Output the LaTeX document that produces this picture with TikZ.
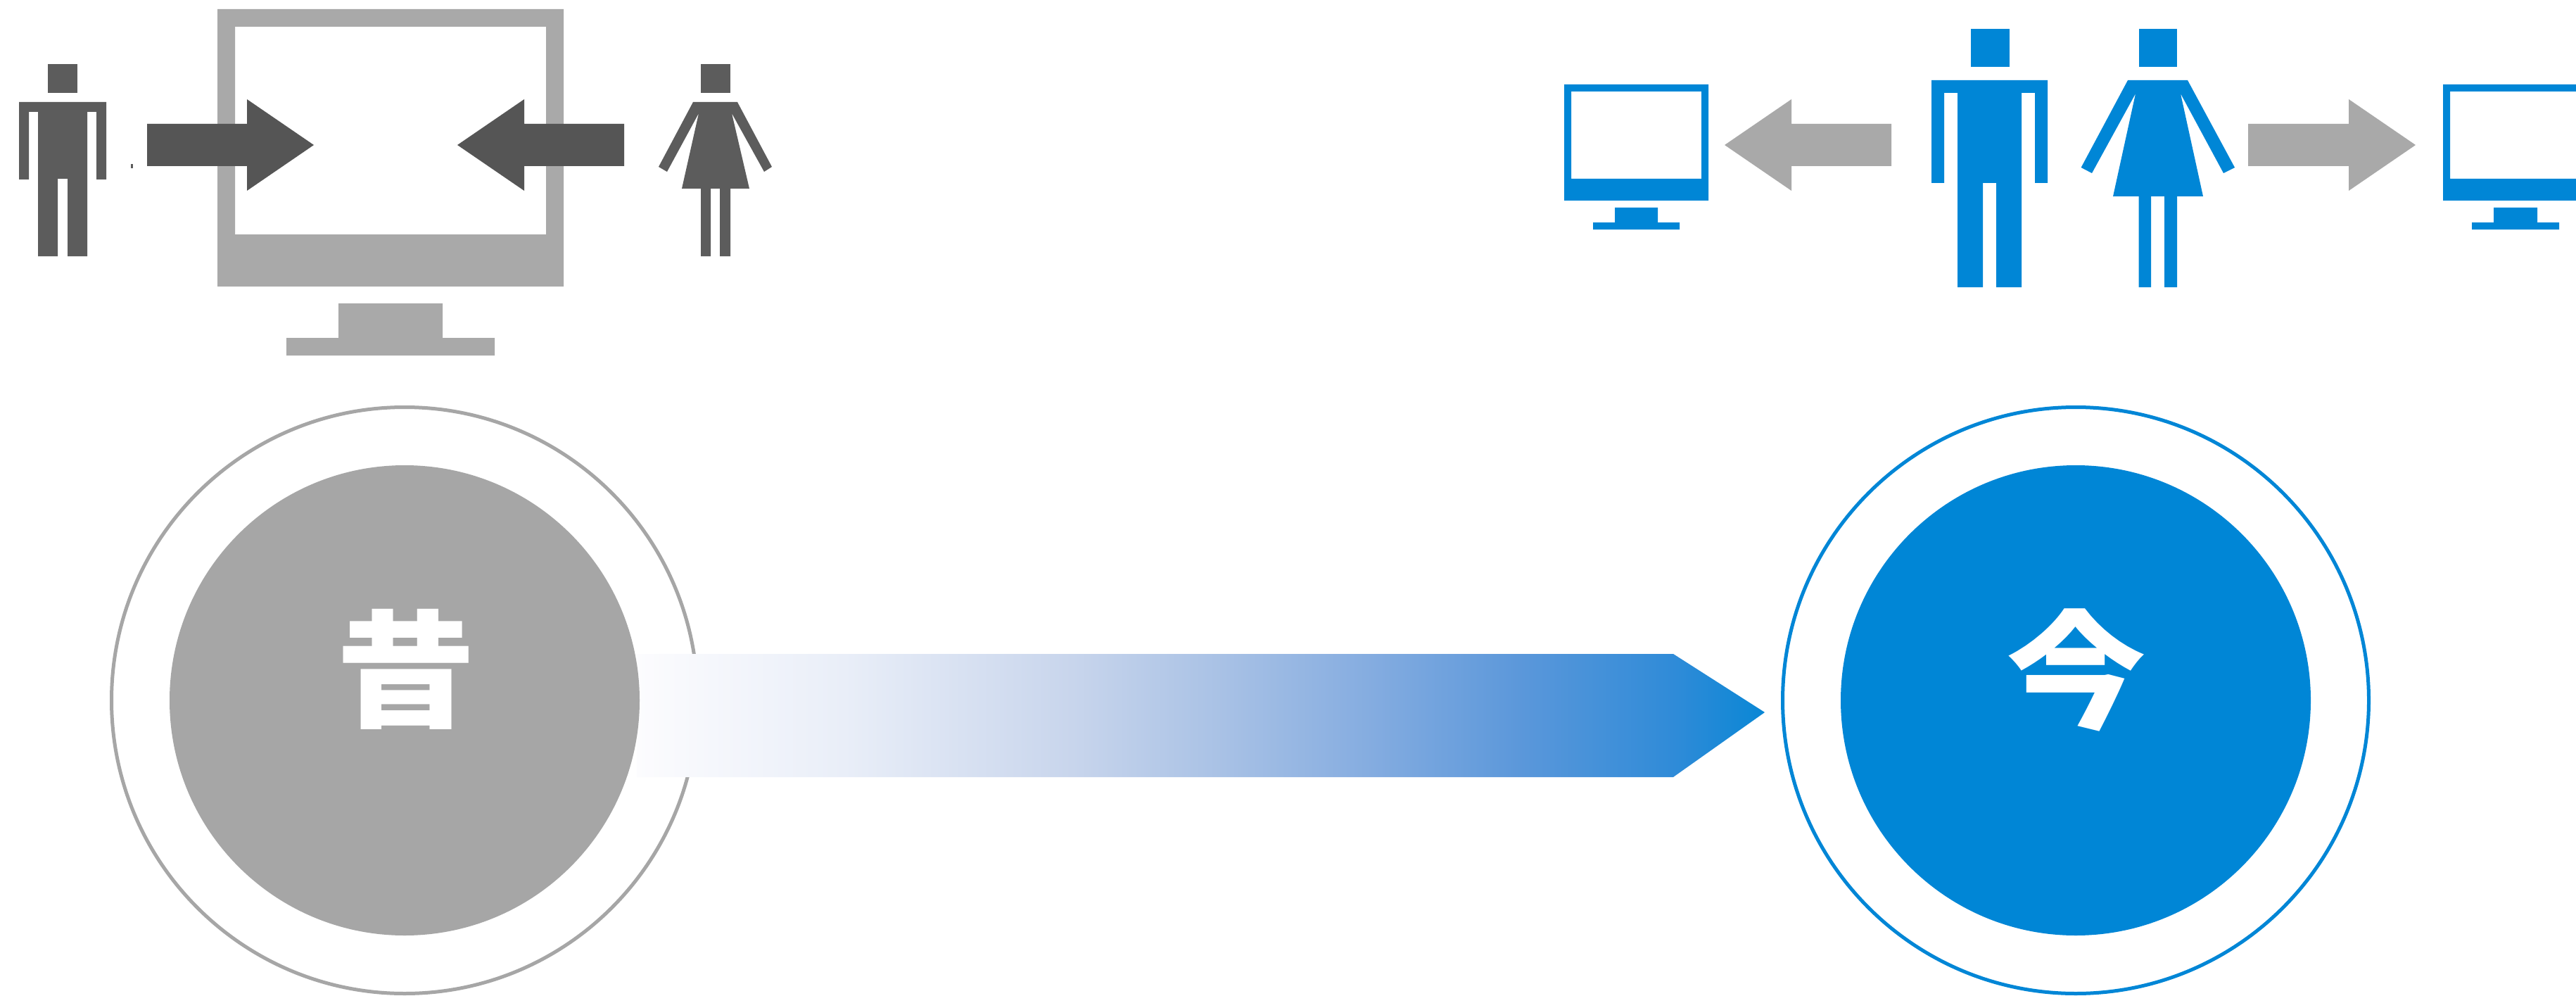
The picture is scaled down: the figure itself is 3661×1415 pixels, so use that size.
\documentclass[tikz,border=0pt]{standalone}
\usepackage{fontspec}
\newfontfamily\cjkfont{Noto Sans CJK JP}
\definecolor{bluemain}{HTML}{0086D6}
\definecolor{greymain}{HTML}{A6A6A6}
\definecolor{greymon}{HTML}{A9A9A9}
\definecolor{greyperson}{HTML}{5C5C5C}
\definecolor{greyarrow}{HTML}{555555}
\definecolor{gA}{HTML}{FCFCFE}
\definecolor{gB}{HTML}{E9EEF8}
\definecolor{gC}{HTML}{C8D5EC}
\definecolor{gD}{HTML}{A8C1E5}
\definecolor{gE}{HTML}{84ACE0}
\definecolor{gF}{HTML}{5A97DA}
\definecolor{gG}{HTML}{2F8BD8}
\definecolor{gH}{HTML}{0A87D5}
\pgfdeclarehorizontalshading{arrowgrad}{100bp}{color(0bp)=(gA); color(25bp)=(gA); color(34.2bp)=(gB); color(44.3bp)=(gC); color(51bp)=(gD); color(57.6bp)=(gE); color(64.3bp)=(gF); color(71bp)=(gG); color(75bp)=(gH); color(100bp)=(gH)}
\tikzset{
  x=1pt,y=-1pt,
  monitorgrey/.style={fill=greymon,draw=none,even odd rule},
  monitorblue/.style={fill=bluemain,draw=none,even odd rule},
  persongrey/.style={fill=greyperson,draw=none},
  personblue/.style={fill=bluemain,draw=none},
  arrowdark/.style={fill=greyarrow,draw=none},
  arrowgrey/.style={fill=greymon,draw=none},
  ringgrey/.style={draw=greymain,line width=5pt,fill=white},
  ringblue/.style={draw=bluemain,line width=5pt,fill=white},
  discgrey/.style={fill=greymain,draw=none},
  discblue/.style={fill=bluemain,draw=none},
  kanji/.style={text=white,inner sep=0pt,font=\cjkfont\bfseries\fontsize{190}{190}\selectfont},
}
\begin{document}
\begin{tikzpicture}
\useasboundingbox (0,0) rectangle (3661,1415);
\fill[white] (0,0) rectangle (3661,1415);

% left monitor
\path[monitorgrey] (309,13) rectangle (801,407) (334,38) rectangle (776,333);
\path[monitorgrey] (481,431) -- (629,431) -- (629,480) -- (703,480) -- (703,505) -- (407,505) -- (407,480) -- (481,480) -- cycle;

% left man
\path[persongrey] (68,91) rectangle (110,132);
\path[persongrey] (27,145) -- (151,145) -- (151,255) -- (137,255) -- (137,159) -- (124,159) -- (124,364) -- (96,364) -- (96,254) -- (82,254) -- (82,364) -- (54,364) -- (54,159) -- (41,159) -- (41,255) -- (27,255) -- cycle;
\path[persongrey] (186,233) rectangle (188.5,239);

% left woman
\path[persongrey] (996,91) rectangle (1038,132);
\path[persongrey] (985,145) -- (1048,145) -- (1097,237) -- (1086,244) -- (1040,161) -- (1065,268) -- (969,268) -- (993,161) -- (948,244) -- (936,237) -- cycle;
\path[persongrey] (996,268) rectangle (1010,364) (1023,268) rectangle (1038,364);

% dark arrows
\path[arrowdark] (209,176) -- (351,176) -- (351,141) -- (446,206) -- (351,271) -- (351,236) -- (209,236) -- cycle;
\path[arrowdark] (887,176) -- (745,176) -- (745,141) -- (650,206) -- (745,271) -- (745,236) -- (887,236) -- cycle;

% blue monitors
\path[monitorblue] (2223,120) rectangle (2428,285) (2233,130) rectangle (2418,254);
\path[monitorblue] (2295,295) -- (2356,295) -- (2356,316) -- (2387,316) -- (2387,326) -- (2264,326) -- (2264,316) -- (2295,316) -- cycle;
\path[monitorblue] (3472,120) -- (3661,120) -- (3661,285) -- (3472,285) -- cycle (3482,130) -- (3661,130) -- (3661,254) -- (3482,254) -- cycle;
\path[monitorblue] (3544,295) -- (3606,295) -- (3606,316) -- (3637,316) -- (3637,326) -- (3513,326) -- (3513,316) -- (3544,316) -- cycle;

% blue man
\path[personblue] (2800.5,41) rectangle (2855.5,95);
\path[personblue] (2745,114) -- (2910,114) -- (2910,260) -- (2892,260) -- (2892,132) -- (2873,132) -- (2873,408) -- (2837,408) -- (2837,260) -- (2818,260) -- (2818,408) -- (2782,408) -- (2782,132) -- (2763,132) -- (2763,260) -- (2745,260) -- cycle;

% blue woman
\path[personblue] (3039.5,41) rectangle (3094,95);
\path[personblue] (3024,114) -- (3109,114) -- (3176,238) -- (3160,246) -- (3099,133) -- (3131,279) -- (3003,279) -- (3035,133) -- (2973,246) -- (2957.6,238) -- cycle;
\path[personblue] (3039.5,279) rectangle (3057,408) (3076,279) rectangle (3094,408);

% grey arrows
\path[arrowgrey] (2688,176) -- (2546,176) -- (2546,141) -- (2451,206) -- (2546,271) -- (2546,236) -- (2688,236) -- cycle;
\path[arrowgrey] (3195,176) -- (3338,176) -- (3338,141) -- (3433,206) -- (3338,271) -- (3338,236) -- (3195,236) -- cycle;

% circles
\path[ringgrey] (575,995) circle[radius=416.5];
\path[ringblue] (2950,995) circle[radius=416.5];
\path[shading=arrowgrad] (905,929) -- (2378,929) -- (2508,1012) -- (2378,1104) -- (905,1104) -- cycle;
\path[discgrey] (575,995) circle[radius=334];
\path[discblue] (2950,995) circle[radius=334];

\node[kanji] (past) at (576.5,950.5) {\scalebox{1.047}[0.95]{昔}};
\node[kanji] (now) at (2950.5,951.5) {\scalebox{1.045}[0.955]{今}};
\end{tikzpicture}
\end{document}
